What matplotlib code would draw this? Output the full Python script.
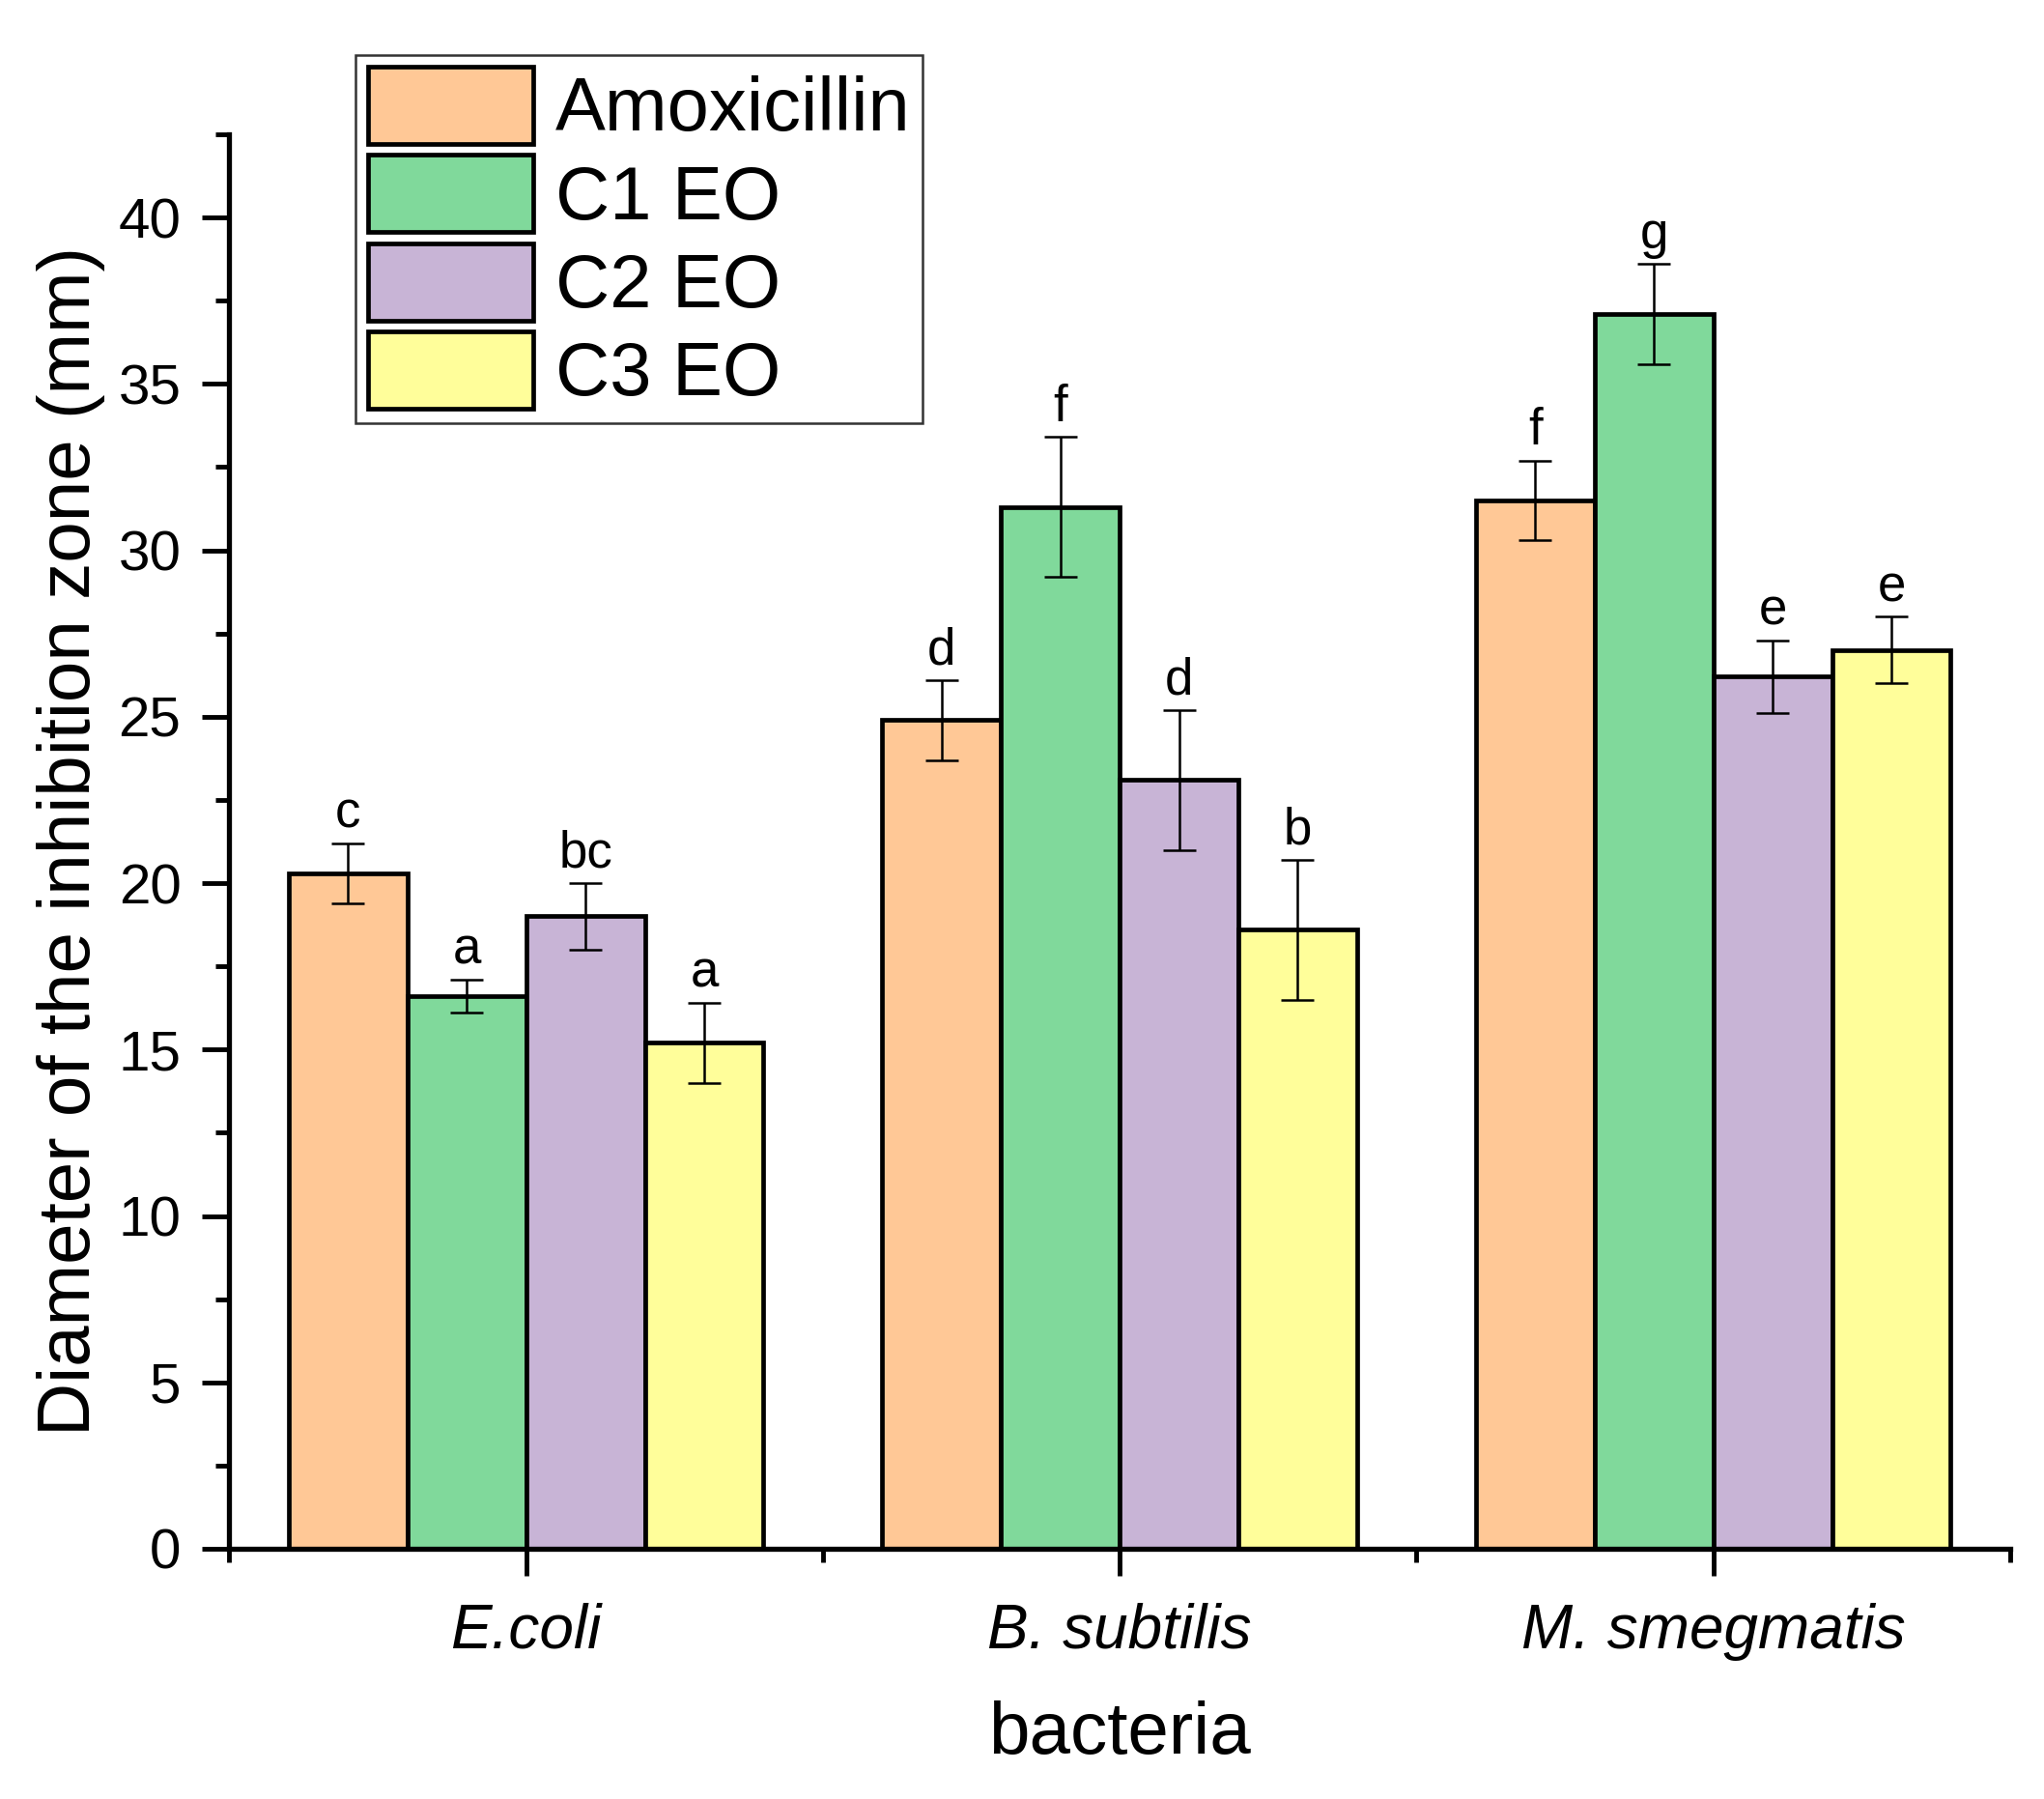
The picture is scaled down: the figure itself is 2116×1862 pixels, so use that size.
import numpy as np
import matplotlib
matplotlib.use('Agg')
import matplotlib.pyplot as plt
from matplotlib.ticker import MultipleLocator, FixedLocator

plt.rcParams['font.family'] = ['Liberation Sans', 'DejaVu Sans']

bacteria = ['E.coli', 'B. subtilis', 'M. smegmatis']
series = ['Amoxicillin', 'C1 EO', 'C2 EO', 'C3 EO']
amox = [20.3, 24.9, 31.5]
c1 = [16.6, 31.3, 37.1]
c2 = [19.0, 23.1, 26.2]
c3 = [15.2, 18.6, 27.0]
amox_err = [0.9, 1.2, 1.2]
c1_err = [0.5, 2.1, 1.5]
c2_err = [1.0, 2.1, 1.1]
c3_err = [1.2, 2.1, 1.0]
amox_lbl = ['c', 'd', 'f']
c1_lbl = ['a', 'f', 'g']
c2_lbl = ['bc', 'd', 'e']
c3_lbl = ['a', 'b', 'e']

colors = ['#FFC896', '#80D99B', '#C8B4D6', '#FFFE9A']

fig = plt.figure(figsize=(21.16, 18.62), dpi=100)
ax = fig.add_axes([0.1122, 0.1391, 0.8712, 0.7863])

x = np.arange(len(bacteria))
w = 0.2
vals = [amox, c1, c2, c3]
errs = [amox_err, c1_err, c2_err, c3_err]
lbls = [amox_lbl, c1_lbl, c2_lbl, c3_lbl]
for i, (v, e, l) in enumerate(zip(vals, errs, lbls)):
    pos = x + (i - 1.5) * w
    ax.bar(pos, v, width=w, color=colors[i], edgecolor='black', linewidth=3.4, label=series[i], zorder=2)
    ax.errorbar(pos, v, yerr=e, fmt='none', ecolor='black', elinewidth=1.8, capsize=12, capthick=1.8, zorder=3)
    for p, vv, ee, t in zip(pos, v, e, l):
        ax.text(p, vv + ee + 0.15, t, ha='center', va='bottom', fontsize=38)

ax.set_xlim(-0.5, 2.5)
ax.set_ylim(0, 42.5)
ax.set_xticks(x)
ax.set_xticklabels(bacteria, style='italic', fontsize=46)
ax.xaxis.set_minor_locator(FixedLocator([-0.5, 0.5, 1.5, 2.5]))
ax.yaxis.set_major_locator(MultipleLocator(5))
ax.yaxis.set_minor_locator(MultipleLocator(2.5))
ax.tick_params(axis='y', labelsize=42)
ax.tick_params(which='major', direction='out', length=20, width=3.5, pad=10)
ax.tick_params(which='minor', direction='out', length=10, width=3.5)
ax.tick_params(axis='x', which='major', pad=20)
ax.tick_params(axis='y', which='major', pad=16)

ax.spines['top'].set_visible(False)
ax.spines['right'].set_visible(False)
ax.spines['left'].set_linewidth(3.8)
ax.spines['bottom'].set_linewidth(3.8)

ax.set_xlabel('bacteria', fontsize=55, labelpad=30)
ax.set_ylabel('Diameter of the inhibition zone (mm)', fontsize=55, labelpad=10)

leg = fig.legend(loc='upper left', bbox_to_anchor=(0.1741, 0.9696), fontsize=56,
                 frameon=True, fancybox=False, edgecolor='black',
                 handlelength=2.2, handleheight=1.2, labelspacing=0.12,
                 borderpad=0.16, handletextpad=0.3, borderaxespad=0)
leg.get_frame().set_linewidth(1.8)

fig.savefig('out.png', dpi=100)
